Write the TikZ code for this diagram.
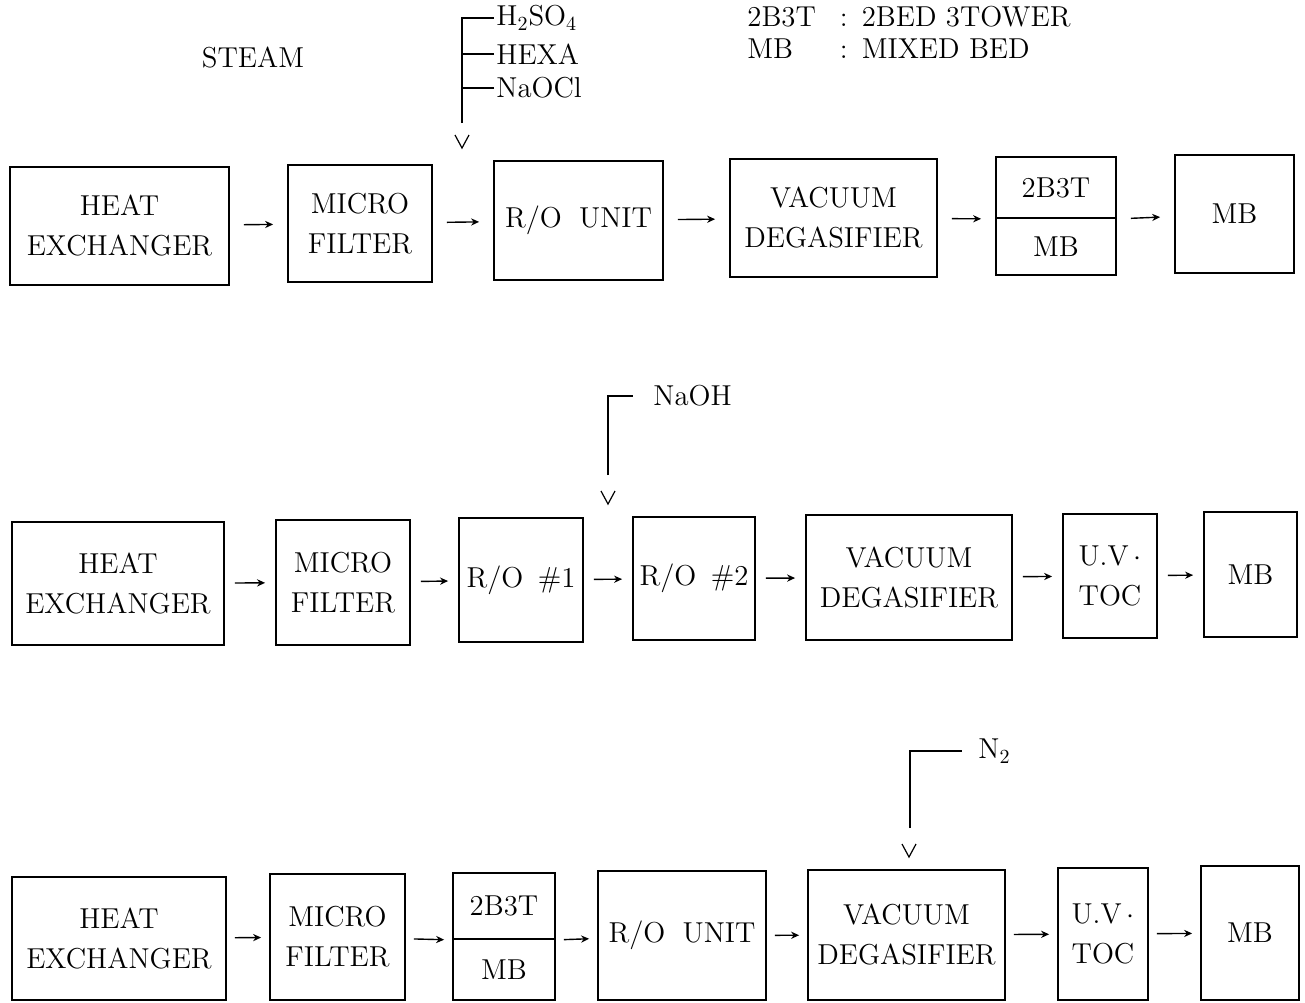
\documentclass[tikz,border=0pt]{standalone}
\usepackage{tikz}
\usetikzlibrary{arrows.meta}

\newcommand{\vtip}[1]{\draw[tip] (#1) ++(-7,-13) -- ++(7,13) -- ++(7,-13);}

\begin{document}
\begin{tikzpicture}[x=0.5pt,y=-0.5pt,>={Stealth[length=4pt,width=3.6pt]},
    every node/.style={font=\fontsize{14.4}{20}\selectfont},
    unit/.style={draw,line width=0.9pt,align=center,inner sep=0pt},
    sz/.style 2 args={minimum width=#1*0.5pt,minimum height=#2*0.5pt},
    flow/.style={->,line width=0.7pt,shorten <=#1,shorten >=#1},
    flow/.default=7pt,
    feed/.style={line width=0.9pt},
    tip/.style={line width=0.6pt},
    chem/.style={anchor=west,inner sep=1pt}]

\useasboundingbox (0,0) rectangle (1305,1002);

% Legend
\node at (253,58) (steam) {STEAM};
\node[anchor=west,inner sep=0pt,font=\fontsize{14.4}{16}\selectfont] (legend) at (747,36)
    {\begin{tabular}{@{}l@{\hspace{12pt}}c@{\hspace{7pt}}l@{}}
        2B3T & : & 2BED 3TOWER\\
        MB   & : & MIXED BED
     \end{tabular}};

% Row 1
\node[unit,sz={219}{118}] (he1) at (119.5,226) {HEAT\\EXCHANGER};
\node[unit,sz={144}{117}] (mf1) at (360,223.5) {MICRO\\FILTER};
\node[unit,sz={169}{119}] (ro1) at (578.5,220.5) {R/O\hspace{0.6em}UNIT};
\node[unit,sz={207}{118}] (vd1) at (833.5,218) {VACUUM\\DEGASIFIER};
\node[unit,sz={120}{61}] (ionA1) at (1056,187.5) {2B3T};
\node[unit,sz={120}{57}] (ionB1) at (1056,246.5) {MB};
\node[unit,sz={119}{118}] (mb1) at (1234.5,214) {MB};

\foreach \a/\b in {he1/mf1,mf1/ro1,ro1/vd1}{
    \draw[flow] (\a) -- (\b);
}
\draw[flow] (vd1) -- (ionA1.south west);
\draw[flow] (ionA1.south east) -- (mb1);

% Chemical dosing
\node[chem] (h2so4) at (494,18) {H\textsubscript{2}SO\textsubscript{4}};
\node[chem] (hexa) at (494,54) {HEXA};
\node[chem] (naocl) at (494,88) {NaOCl};
\coordinate (top1) at (462,18);
\coordinate (bot1) at (462,123);
\coordinate (tip1) at (462,148);
\draw[feed] (bot1) -- (top1) -- (h2so4.west);
\draw[feed] (hexa.west) -- (hexa.west -| top1);
\draw[feed] (naocl.west) -- (naocl.west -| top1);
\vtip{tip1}

% Row 2
\node[unit,sz={212}{123}] (he2) at (118,583.5) {HEAT\\EXCHANGER};
\node[unit,sz={134}{125}] (mf2) at (343,582.5) {MICRO\\FILTER};
\node[unit,sz={124}{124}] (roA2) at (521,580) {R/O\hspace{0.5em}\#1};
\node[unit,sz={122}{123}] (roB2) at (694,578.5) {R/O\hspace{0.5em}\#2};
\node[unit,sz={206}{125}] (vd2) at (909,577.5) {VACUUM\\DEGASIFIER};
\node[unit,sz={94}{124}] (uv2) at (1110,576) {U.V\,$\cdot$\\TOC};
\node[unit,sz={93}{125}] (mb2) at (1250.5,574.5) {MB};

\foreach \a/\b in {he2/mf2,mf2/roA2,roA2/roB2,roB2/vd2,vd2/uv2,uv2/mb2}{
    \draw[flow=5pt] (\a) -- (\b);
}

\node[chem] (naoh) at (651,396) {NaOH};
\coordinate (top2) at (608,396);
\coordinate (bot2) at (608,475);
\coordinate (tip2) at (608,504);
\draw[feed] (bot2) -- (top2) -- ([xshift=-9pt]naoh.west);
\vtip{tip2}

% Row 3
\node[unit,sz={214}{123}] (he3) at (119,938.5) {HEAT\\EXCHANGER};
\node[unit,sz={135}{126}] (mf3) at (337.5,937) {MICRO\\FILTER};
\node[unit,sz={102}{66}] (ionA3) at (504,906) {2B3T};
\node[unit,sz={102}{61}] (ionB3) at (504,969.5) {MB};
\node[unit,sz={168}{129}] (ro3) at (682,935.5) {R/O\hspace{0.6em}UNIT};
\node[unit,sz={197}{130}] (vd3) at (906.5,935) {VACUUM\\DEGASIFIER};
\node[unit,sz={90}{132}] (uv3) at (1103,934) {U.V\,$\cdot$\\TOC};
\node[unit,sz={98}{134}] (mb3) at (1250,933) {MB};

\foreach \a/\b in {he3/mf3,ro3/vd3,vd3/uv3,uv3/mb3}{
    \draw[flow=4pt] (\a) -- (\b);
}
\draw[flow=4pt] (mf3) -- (ionA3.south west);
\draw[flow=4pt] (ionA3.south east) -- (ro3);

\node[chem] (n2) at (976,751) {N\textsubscript{2}};
\coordinate (top3) at (910,751);
\coordinate (bot3) at (910,828);
\coordinate (tip3) at (909,857);
\draw[feed] (bot3) -- (top3) -- ([xshift=-7pt]n2.west);
\vtip{tip3}

\end{tikzpicture}
\end{document}
